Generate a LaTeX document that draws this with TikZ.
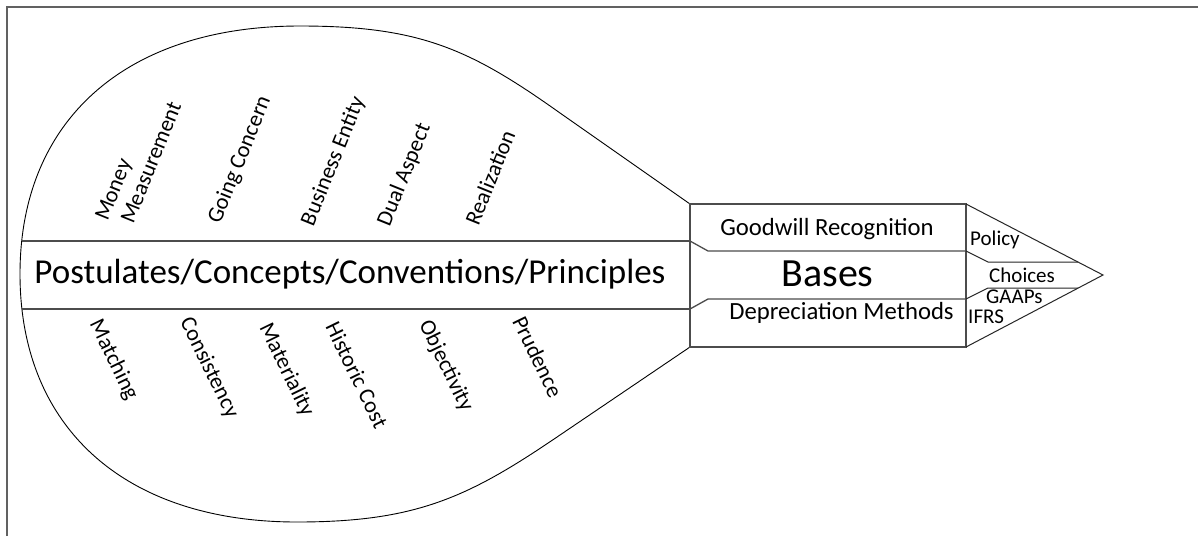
\documentclass[tikz,border=0pt]{standalone}
\usepackage{fontspec}
\setmainfont{Carlito}
\begin{document}
\begin{tikzpicture}[x=1pt,y=-1pt,
  outline/.style={line width=0.9pt, black},
  bandline/.style={line width=1.3pt, black!70},
  tipline/.style={line width=1pt, black!85},
  frameline/.style={line width=2pt, black!62},
  rotup/.style={rotate=68, inner sep=0pt, font=\fontsize{22.5}{25}\selectfont},
  rotdown/.style={rotate=-64, inner sep=0pt, font=\fontsize{22.5}{25}\selectfont},
  smalllabel/.style={inner sep=0pt, anchor=base west, font=\fontsize{21}{23}\selectfont},
  midlabel/.style={inner sep=0pt, anchor=base, font=\fontsize{24.7}{27}\selectfont},
]
\useasboundingbox (0,0) rectangle (1198,536);
\fill[white] (0,0) rectangle (1198,536);

% page frame (open at right and bottom)
\draw[frameline] (7,536) -- (7,7) -- (1198,7);

% bulb outline with its neck
\draw[outline] (690,204) -- (560,113)
  .. controls (470,49) and (420,26) .. (300,26)
  .. controls (126,26) and (20,120) .. (20,274)
  .. controls (20,428) and (125,522) .. (297,522)
  .. controls (417,522) and (469,497) .. (560,435) -- (690,347);

% central band
\draw[bandline] (22.4,241) -- (690,241);
\draw[bandline] (22.4,309) -- (690,309);

% bases box
\draw[bandline] (690,204) rectangle (966,347);
\draw[bandline] (690,241) -- (708,251) -- (966,251);
\draw[bandline] (690,309) -- (708,299) -- (966,299);

% arrow tip
\draw[tipline] (966,204) -- (1103,275) -- (966,347);
\draw[tipline] (966,251) -- (988,262) -- (1078,262);
\draw[tipline] (966,299) -- (988,288) -- (1078,288);

% band and box texts
\node[inner sep=0pt, anchor=base, font=\fontsize{35}{40}\selectfont] (principles) at (350,283) {Postulates/Concepts/Conventions/Principles};
\node[inner sep=0pt, anchor=base, font=\fontsize{40}{44}\selectfont] (bases) at (827.5,286.5) {Bases};
\node[midlabel] (goodwill) at (827,235) {Goodwill Recognition};
\node[midlabel] (depreciation) at (841.5,319) {Depreciation Methods};

% tip texts
\node[smalllabel] (policy) at (970,245) {Policy};
\node[smalllabel] (choices) at (989,282) {Choices};
\node[smalllabel] (gaaps) at (986,303) {GAAPs};
\node[smalllabel] (ifrs) at (968,323) {IFRS};

% upper concepts
\node[rotup, align=left] (money) at (138,161) {Money\\\hspace*{7pt}Measurement};
\node[rotup] (going) at (240,160) {Going Concern};
\node[rotup] (entity) at (333.5,161.5) {Business Entity};
\node[rotup] (dual) at (404.5,175) {Dual Aspect};
\node[rotup] (realization) at (490,177.5) {Realization};

% lower concepts
\node[rotdown] (matching) at (113.4,360) {Matching};
\node[rotdown] (consistency) at (209,368) {Consistency};
\node[rotdown] (materiality) at (286.4,370) {Materiality};
\node[rotdown] (historic) at (357,375) {Historic Cost};
\node[rotdown] (objectivity) at (445.7,366) {Objectivity};
\node[rotdown] (prudence) at (537.8,356.7) {Prudence};
\end{tikzpicture}
\end{document}
